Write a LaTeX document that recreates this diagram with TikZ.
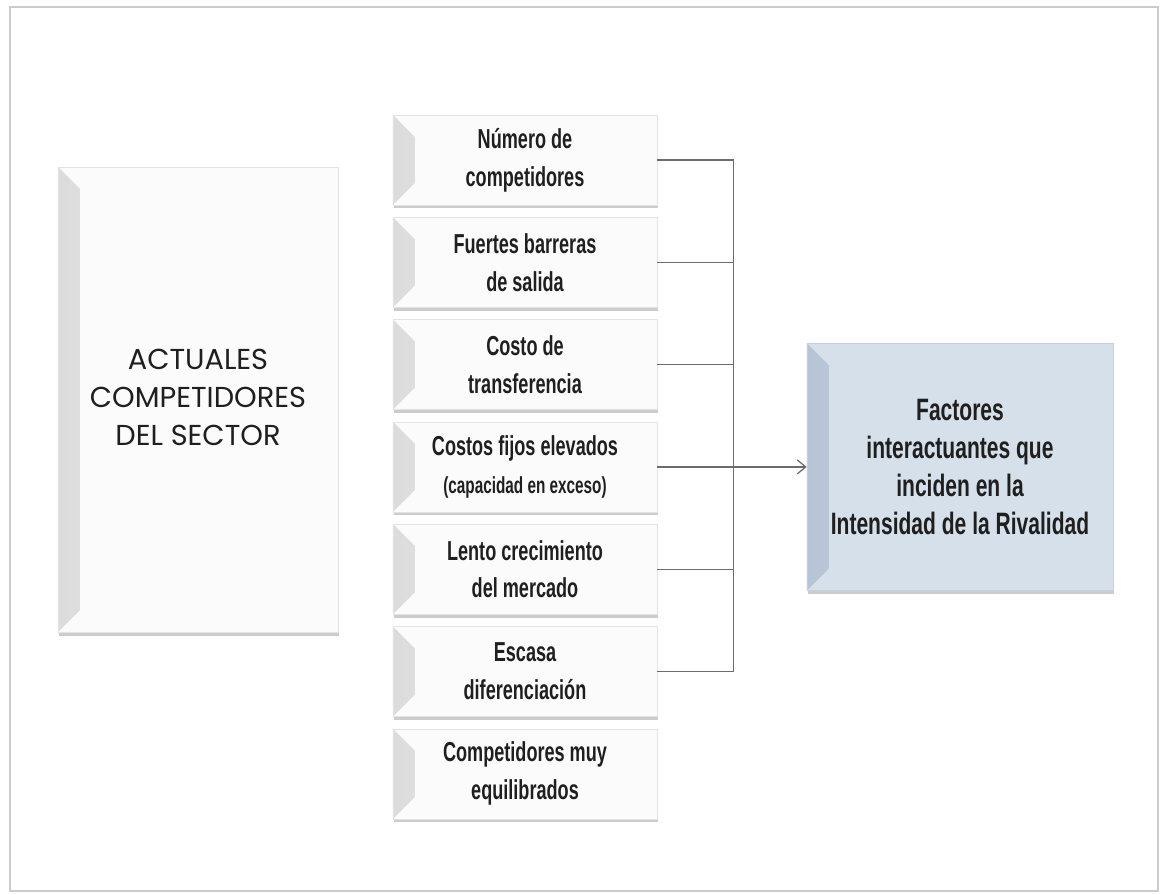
\documentclass[tikz,border=0pt]{standalone}
\usepackage{fontspec}
\setmainfont{Liberation Sans}
\newfontfamily\gothicfont{Poppins}
\newfontfamily\narrowfont[FakeStretch=0.66]{Liberation Sans Bold}
\newfontfamily\widenarrowfont[FakeStretch=0.68]{Liberation Sans Bold}
\usetikzlibrary{shadows,arrows.meta}

\definecolor{azulcaja}{RGB}{214,224,234}
\definecolor{azulbisel}{RGB}{182,196,213}

\tikzset{
  caja/.style={fill=gray!3, draw=gray!22, align=center, text=black!88, inner sep=0pt,
    drop shadow={shadow xshift=0.9pt, shadow yshift=-2.4pt, opacity=.4},
    path picture={
      \fill[left color=gray!28, right color=gray!3]
        (path picture bounding box.north west) -- ++(0.55cm,-0.55cm)
        -- ([xshift=0.55cm,yshift=0.55cm]path picture bounding box.south west)
        -- (path picture bounding box.south west) -- cycle;
    }},
  factor/.style={caja, minimum width=6.6cm, minimum height=2.25cm,
    font=\narrowfont\fontsize{19.5}{27}\selectfont},
  meta/.style={caja, fill=azulcaja, draw=azulbisel!80,
    minimum width=7.65cm, minimum height=6.175cm,
    font=\widenarrowfont\fontsize{22}{27}\selectfont,
    path picture={
      \fill[left color=azulbisel, right color=azulcaja]
        (path picture bounding box.north west) -- ++(0.55cm,-0.55cm)
        -- ([xshift=0.55cm,yshift=0.55cm]path picture bounding box.south west)
        -- (path picture bounding box.south west) -- cycle;
    }},
  conector/.style={draw=gray!85!black, line width=0.9pt}
}

\begin{document}
\begin{tikzpicture}[x=0.025cm,y=-0.025cm]

\useasboundingbox (0,0) rectangle (1161,894);

% Marco exterior
\draw[gray!40, line width=1.2pt] (10,7) rectangle (1158,891);

% Caja principal (izquierda)
\node[caja, minimum width=7cm, minimum height=11.63cm,
  font=\gothicfont\fontsize{20.5}{27}\selectfont] (actuales) at (198,399.5)
  {\raisebox{-0.2cm}{\begin{tabular}{c}ACTUALES\\COMPETIDORES\\DEL SECTOR\end{tabular}}};

% Factores
\node[factor] (f1) at (525,160.0) {Número de\\competidores};
\node[factor] (f2) at (525,262.3) {Fuertes barreras\\de salida};
\node[factor] (f3) at (525,364.6) {Costo de\\transferencia};
\node[factor] (f4) at (525,466.9) {Costos fijos elevados\\{\fontsize{16.5}{27}\selectfont(capacidad en exceso)}};
\node[factor] (f5) at (525,569.2) {Lento crecimiento\\del mercado};
\node[factor] (f6) at (525,671.5) {Escasa\\diferenciación};
\node[factor] (f7) at (525,773.8) {Competidores muy\\equilibrados};

% Resultado (derecha)
\node[meta] (intensidad) at (960,466.9)
  {Factores\\interactuantes que\\inciden en la\\Intensidad de la Rivalidad};

% Conectores
\coordinate (bus) at ([xshift=1.9cm]f4.east);
\foreach \i in {1,...,6}
  \draw[conector] (f\i.east) -| (bus);
\draw[conector,-{Straight Barb[length=6pt,width=10pt]}] (bus) -- (intensidad.west);

\end{tikzpicture}
\end{document}
